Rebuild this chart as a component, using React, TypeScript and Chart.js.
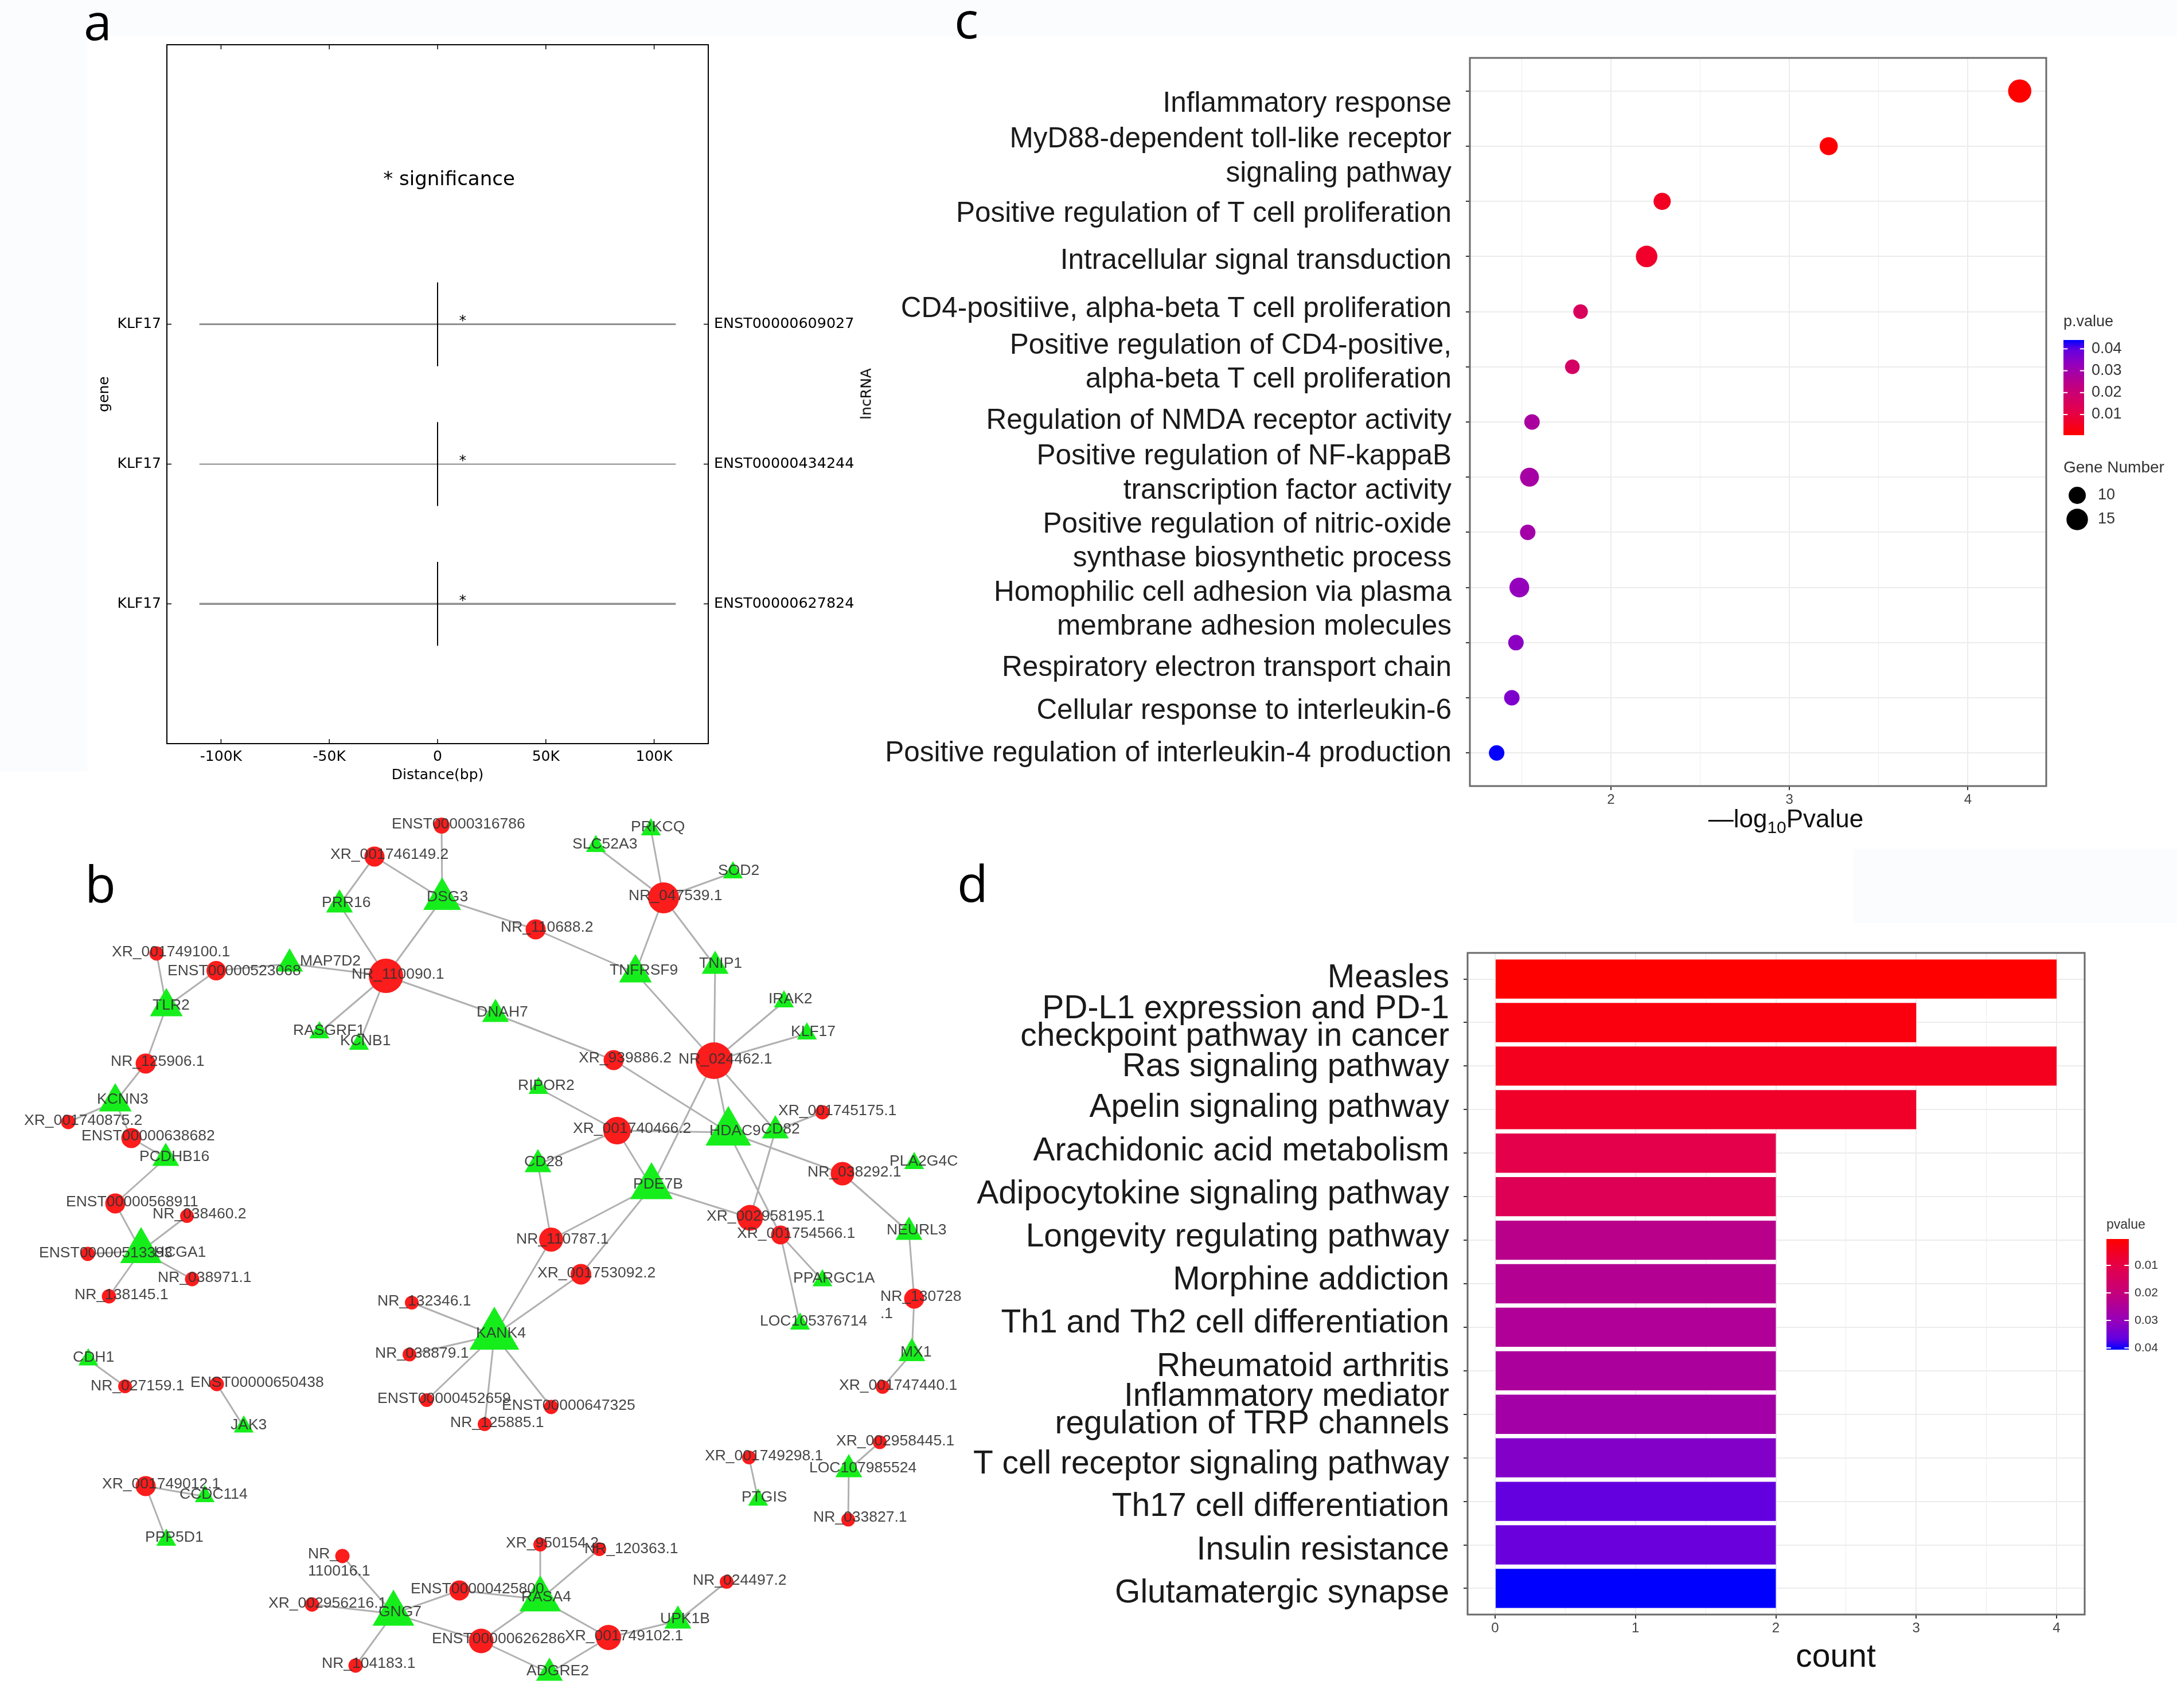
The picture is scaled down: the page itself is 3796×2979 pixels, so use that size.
import React, { useEffect, useRef } from "react";
import { Chart, registerables } from "chart.js";

Chart.register(...registerables);

const W = 3796;
const H = 2979;
const SANS = '"Liberation Sans", Arial, sans-serif';
const DEJAVU = '"DejaVu Sans", sans-serif';

// ---------- panel a ----------
const aGenes = ["KLF17", "KLF17", "KLF17"];
const aLncRNAs = ["ENST00000609027", "ENST00000434244", "ENST00000627824"];
const aRows = [3, 2, 1];
const aTickValues = [-100000, -50000, 0, 50000, 100000];
const aTickLabels = ["-100K", "-50K", "0", "50K", "100K"];
const aSpan = 110000;
const aMarkHalfHeight = 0.3;
const aStarDistance = 11600;

// ---------- panel c ----------
const cTerms: (string | string[])[] = [
  "Inflammatory response",
  ["MyD88-dependent toll-like receptor", "signaling pathway"],
  "Positive regulation of T cell proliferation",
  "Intracellular signal transduction",
  "CD4-positiive, alpha-beta T cell proliferation",
  ["Positive regulation of CD4-positive,", "alpha-beta T cell proliferation"],
  "Regulation of NMDA receptor activity",
  ["Positive regulation of NF-kappaB", "transcription factor activity"],
  ["Positive regulation of nitric-oxide", "synthase biosynthetic process"],
  ["Homophilic cell adhesion via plasma", "membrane adhesion molecules"],
  "Respiratory electron transport chain",
  "Cellular response to interleukin-6",
  "Positive regulation of interleukin-4 production",
];
const cLabelRows = [12.77, 11.81, 10.77, 9.92, 9.04, 8.07, 7.02, 6.06, 4.83, 3.59, 2.54, 1.76, 0.99];
const cLogP = [4.29, 3.22, 2.287, 2.2, 1.83, 1.784, 1.558, 1.544, 1.534, 1.487, 1.468, 1.445, 1.36];
const cPValues = [0.00005, 0.0006, 0.0052, 0.0063, 0.0148, 0.0164, 0.0277, 0.0286, 0.0292, 0.0326, 0.034, 0.0359, 0.0437];
const cGeneCounts = [17, 11, 10, 15, 7, 7, 8, 12, 8, 13, 8, 8, 8];
const cXTicks = [1.5, 2, 2.5, 3, 3.5, 4];
const cLegendTicks = [0.01, 0.02, 0.03, 0.04];
const cSizeLegend = [10, 15];

// ---------- panel d ----------
const dTerms: (string | string[])[] = [
  "Measles",
  ["PD-L1 expression and PD-1", "checkpoint pathway in cancer"],
  "Ras signaling pathway",
  "Apelin signaling pathway",
  "Arachidonic acid metabolism",
  "Adipocytokine signaling pathway",
  "Longevity regulating pathway",
  "Morphine addiction",
  "Th1 and Th2 cell differentiation",
  "Rheumatoid arthritis",
  ["Inflammatory mediator", "regulation of TRP channels"],
  "T cell receptor signaling pathway",
  "Th17 cell differentiation",
  "Insulin resistance",
  "Glutamatergic synapse",
];
const dLabelRows = [15.02, 13.99, 12.98, 12.04, 11.04, 10.05, 9.06, 8.07, 7.09, 6.09, 5.08, 3.85, 2.87, 1.87, 0.88];
const dCounts = [4, 3, 4, 3, 2, 2, 2, 2, 2, 2, 2, 2, 2, 2, 2];
const dPValues = [0.0005, 0.0025, 0.0045, 0.0061, 0.0105, 0.0125, 0.0226, 0.0238, 0.0246, 0.0254, 0.027, 0.0326, 0.0366, 0.0358, 0.0406];
const dXTicks = [0, 0.5, 1, 1.5, 2, 2.5, 3, 3.5, 4];
const dLegendTicks = [0.01, 0.02, 0.03, 0.04];

// ---------- panel b: network, [name, x, y, radius, label x, label y] ----------
type Node = [string, number, number, number, number, number];
const lncNodes: Node[] = [
  ["ENST00000316786", 770, 1440, 14, 683, 1438],
  ["XR_001746149.2", 653, 1494, 17.5, 576, 1491],
  ["NR_110090.1", 673, 1702, 30, 613, 1700],
  ["XR_001749100.1", 273, 1663, 12.5, 195, 1661],
  ["ENST00000523068", 377, 1693, 17, 292, 1694],
  ["NR_125906.1", 254, 1855, 17.5, 193, 1852],
  ["XR_001740875.2", 119, 1957, 12.5, 42, 1955],
  ["ENST00000638682", 229, 1985, 17.5, 142, 1982],
  ["ENST00000568911", 201, 2099, 17.5, 115, 2097],
  ["NR_038460.2", 326, 2121, 12, 266, 2118],
  ["NR_047539.1", 1157, 1566, 27, 1096, 1563],
  ["NR_110688.2", 934, 1621, 17.5, 873, 1618],
  ["XR_939886.2", 1070, 1849, 17.5, 1009, 1846],
  ["NR_024462.1", 1245, 1850, 32, 1183, 1848],
  ["XR_001740466.2", 1076, 1972, 24, 999, 1969],
  ["XR_001745175.1", 1434, 1940, 12.5, 1357, 1938],
  ["NR_038292.1", 1469, 2047, 20.5, 1408, 2045],
  ["XR_002958195.1", 1308, 2124, 22.5, 1232, 2122],
  ["XR_001754566.1", 1361, 2154, 16.5, 1285, 2152],
  ["NR_110787.1", 961, 2162, 21, 900, 2162],
  ["ENST00000513393", 153, 2187, 12.5, 68, 2186],
  ["NR_038971.1", 335, 2231, 12.5, 275, 2229],
  ["NR_138145.1", 190, 2261, 12.5, 130, 2259],
  ["NR_027159.1", 218, 2418, 12, 158, 2418],
  ["ENST00000650438", 378, 2414, 12.5, 332, 2412],
  ["XR_001749012.1", 254, 2592, 17.5, 178, 2589],
  ["NR_110016.1", 597, 2714, 12.5, 537, 2711],
  ["XR_002956216.1", 544, 2798.5, 12.5, 468, 2796.5],
  ["NR_104183.1", 620, 2905, 12.5, 561, 2902],
  ["ENST00000425800", 801, 2774, 17.5, 716, 2772],
  ["ENST00000626286", 839, 2862, 21.5, 753, 2859],
  ["NR_132346.1", 718, 2272, 12, 658, 2270],
  ["NR_038879.1", 714, 2362.5, 12, 654, 2360.5],
  ["ENST00000452659", 744, 2442, 12, 658, 2440],
  ["NR_125885.1", 845, 2484, 12, 785, 2482],
  ["XR_001753092.2", 1013, 2222.5, 18, 937, 2220.5],
  ["NR_130728.1", 1594, 2265, 17.5, 1535, 2262],
  ["XR_001747440.1", 1539, 2419, 12, 1463, 2417],
  ["ENST00000647325", 961, 2454, 12.5, 875, 2452],
  ["XR_002958445.1", 1534, 2515.5, 12, 1458, 2513.5],
  ["XR_001749298.1", 1306, 2542, 12, 1229, 2540],
  ["NR_033827.1", 1479, 2650.5, 12, 1418, 2647],
  ["XR_950154.2", 942, 2694, 12, 882, 2692],
  ["NR_120363.1", 1045, 2702, 12, 1019, 2702],
  ["NR_024497.2", 1267, 2759, 12, 1208, 2757],
  ["XR_001749102.1", 1061, 2856, 22, 985, 2854],
];
const geneNodes: Node[] = [
  ["PRR16", 592, 1578, 27, 561, 1575],
  ["DSG3", 771, 1568, 38, 744, 1565],
  ["MAP7D2", 505, 1681, 27, 523, 1677],
  ["TLR2", 290, 1756, 33, 266, 1754],
  ["DNAH7", 864, 1769, 27, 831, 1766],
  ["RASGRF1", 557, 1801, 20, 511, 1798],
  ["KCNB1", 626, 1821, 20, 593, 1816],
  ["KCNN3", 201, 1922, 33, 169, 1918],
  ["PCDHB16", 289, 2020, 27, 243, 2018],
  ["HCGA1", 246, 2182, 42, 268, 2185],
  ["PRKCQ", 1135, 1447, 20, 1100, 1443],
  ["SLC52A3", 1039, 1476, 20, 998, 1473],
  ["SOD2", 1278, 1522, 20, 1252, 1519],
  ["TNFRSF9", 1108, 1697, 33, 1063, 1693],
  ["TNIP1", 1247, 1685, 27, 1219, 1681],
  ["IRAK2", 1367, 1747, 20, 1340, 1743],
  ["KLF17", 1407, 1803, 20, 1379, 1800],
  ["RIPOR2", 939, 1898, 20, 903, 1894],
  ["HDAC9", 1270, 1975, 46, 1237, 1973],
  ["CD82", 1352, 1972, 27, 1327, 1970],
  ["CD28", 938, 2031, 27, 914, 2027],
  ["PDE7B", 1136, 2070, 43, 1104, 2066],
  ["PLA2G4C", 1594, 2029, 20, 1551, 2026],
  ["NEURL3", 1585, 2149, 27, 1546, 2146],
  ["CDH1", 154, 2371.5, 20, 127, 2367.5],
  ["JAK3", 425, 2488.6, 20, 402, 2485.6],
  ["CCDC114", 357, 2610, 20, 313, 2607],
  ["PPP5D1", 290, 2686, 20, 253, 2682],
  ["GNG7", 686, 2814.4, 42, 660, 2811.4],
  ["KANK4", 862, 2329, 50, 830, 2326],
  ["PPARGC1A", 1434, 2233.4, 20, 1383, 2229.4],
  ["LOC105376714", 1395, 2309, 20, 1325, 2305],
  ["MX1", 1590, 2360.5, 27, 1570, 2358.5],
  ["LOC107985524", 1480, 2563, 27, 1411, 2561],
  ["PTGIS", 1322, 2616, 20, 1293, 2612],
  ["RASA4", 942, 2789.6, 42, 909, 2785.6],
  ["UPK1B", 1182, 2827, 27, 1151, 2824],
  ["ADGRE2", 958, 2918, 27, 918, 2915],
];
const wrappedLabels: Record<string, string[]> = {
  "NR_110016.1": ["NR_", "110016.1"],
  "NR_130728.1": ["NR_130728", ".1"],
};
const edges: [string, string][] = [
  ["ENST00000316786", "DSG3"], ["XR_001746149.2", "DSG3"], ["XR_001746149.2", "PRR16"],
  ["PRR16", "NR_110090.1"], ["DSG3", "NR_110090.1"], ["DSG3", "NR_110688.2"],
  ["NR_110688.2", "TNFRSF9"], ["NR_047539.1", "TNFRSF9"], ["NR_047539.1", "TNIP1"],
  ["NR_047539.1", "SLC52A3"], ["NR_047539.1", "PRKCQ"], ["NR_047539.1", "SOD2"],
  ["TNFRSF9", "NR_024462.1"], ["TNIP1", "NR_024462.1"], ["IRAK2", "NR_024462.1"],
  ["KLF17", "NR_024462.1"], ["NR_110090.1", "MAP7D2"], ["MAP7D2", "ENST00000523068"],
  ["ENST00000523068", "TLR2"], ["XR_001749100.1", "TLR2"], ["TLR2", "NR_125906.1"],
  ["NR_125906.1", "KCNN3"], ["KCNN3", "XR_001740875.2"], ["KCNN3", "ENST00000638682"],
  ["ENST00000638682", "PCDHB16"], ["PCDHB16", "ENST00000568911"], ["ENST00000568911", "HCGA1"],
  ["NR_038460.2", "HCGA1"], ["ENST00000513393", "HCGA1"], ["NR_038971.1", "HCGA1"],
  ["NR_138145.1", "HCGA1"], ["NR_110090.1", "RASGRF1"], ["NR_110090.1", "KCNB1"],
  ["NR_110090.1", "DNAH7"], ["DNAH7", "XR_939886.2"], ["XR_939886.2", "HDAC9"],
  ["NR_024462.1", "HDAC9"], ["NR_024462.1", "PDE7B"], ["NR_024462.1", "CD82"],
  ["RIPOR2", "XR_001740466.2"], ["XR_001740466.2", "CD28"], ["XR_001740466.2", "HDAC9"],
  ["XR_001740466.2", "PDE7B"], ["CD28", "NR_110787.1"], ["PDE7B", "NR_110787.1"],
  ["PDE7B", "XR_001753092.2"], ["PDE7B", "XR_002958195.1"], ["CD82", "XR_001745175.1"],
  ["CD82", "XR_002958195.1"], ["HDAC9", "NR_038292.1"], ["HDAC9", "XR_001754566.1"],
  ["NR_038292.1", "NEURL3"], ["NEURL3", "NR_130728.1"], ["NR_130728.1", "MX1"],
  ["MX1", "XR_001747440.1"], ["XR_001754566.1", "PPARGC1A"], ["XR_001754566.1", "LOC105376714"],
  ["NR_110787.1", "KANK4"], ["XR_001753092.2", "KANK4"], ["KANK4", "NR_132346.1"],
  ["KANK4", "NR_038879.1"], ["KANK4", "ENST00000452659"], ["KANK4", "NR_125885.1"],
  ["KANK4", "ENST00000647325"], ["CDH1", "NR_027159.1"], ["ENST00000650438", "JAK3"],
  ["XR_001749012.1", "CCDC114"], ["XR_001749012.1", "PPP5D1"], ["NR_110016.1", "GNG7"],
  ["XR_002956216.1", "GNG7"], ["GNG7", "ENST00000425800"], ["GNG7", "ENST00000626286"],
  ["GNG7", "NR_104183.1"], ["ENST00000425800", "RASA4"], ["ENST00000626286", "RASA4"],
  ["ENST00000626286", "ADGRE2"], ["RASA4", "XR_950154.2"], ["RASA4", "NR_120363.1"],
  ["RASA4", "XR_001749102.1"], ["XR_001749102.1", "ADGRE2"], ["XR_001749102.1", "UPK1B"],
  ["UPK1B", "NR_024497.2"], ["XR_001749298.1", "PTGIS"], ["XR_002958445.1", "LOC107985524"],
  ["LOC107985524", "NR_033827.1"],
];

// ---------- helpers ----------
const gradientStops: [number, number[]][] = [
  [0, [255, 0, 0]],
  [0.25, [228, 0, 74]],
  [0.5, [195, 0, 126]],
  [0.75, [147, 0, 190]],
  [0.9, [100, 0, 224]],
  [1, [0, 0, 255]],
];
function gradientColor(t: number) {
  const v = Math.max(0, Math.min(1, t));
  for (let i = 1; i < gradientStops.length; i++) {
    const [t1, c1] = gradientStops[i];
    if (v <= t1) {
      const [t0, c0] = gradientStops[i - 1];
      const k = (v - t0) / (t1 - t0);
      const mix = c0.map((c, j) => Math.round(c + (c1[j] - c) * k));
      return `rgb(${mix.join(",")})`;
    }
  }
  return "rgb(0,0,255)";
}
const bubbleRadius = (count: number) => 7.5 + count * 0.75;

type Box = { l: number; t: number; r: number; b: number };
const pad = (box: Box, leftW: number, bottomH: number, rightW = 0) => ({
  left: box.l - leftW,
  top: box.t,
  right: W - box.r - rightW,
  bottom: H - box.b - bottomH,
});
const fitW = (w: number) => (s: any) => { s.width = w; };
const fitH = (h: number) => (s: any) => { s.height = h; };
const setTicks = (values: number[]) => (s: any) => { s.ticks = values.map((value) => ({ value })); };

const framePlugin = (color: string, width: number) => ({
  id: "frame",
  afterDatasetsDraw(chart: any) {
    const { left, top, right, bottom } = chart.chartArea;
    const ctx = chart.ctx;
    ctx.save();
    ctx.strokeStyle = color;
    ctx.lineWidth = width;
    ctx.strokeRect(left, top, right - left, bottom - top);
    ctx.restore();
  },
});

const inwardTicksPlugin = {
  id: "inwardTicks",
  afterDatasetsDraw(chart: any) {
    const { left, top, right, bottom } = chart.chartArea;
    const ctx = chart.ctx;
    const len = 8;
    ctx.save();
    ctx.strokeStyle = "#000";
    ctx.lineWidth = 1.5;
    ctx.beginPath();
    chart.scales.x.ticks.forEach((t: any) => {
      const p = chart.scales.x.getPixelForValue(t.value);
      ctx.moveTo(p, top); ctx.lineTo(p, top + len);
      ctx.moveTo(p, bottom); ctx.lineTo(p, bottom - len);
    });
    chart.scales.y.ticks.forEach((t: any) => {
      const p = chart.scales.y.getPixelForValue(t.value);
      ctx.moveTo(left, p); ctx.lineTo(left + len, p);
      ctx.moveTo(right, p); ctx.lineTo(right - len, p);
    });
    ctx.stroke();
    ctx.restore();
  },
};

const significancePlugin = {
  id: "significance",
  afterDatasetsDraw(chart: any) {
    const ctx = chart.ctx;
    const { x, y } = chart.scales;
    ctx.save();
    ctx.fillStyle = "#000";
    ctx.textAlign = "center";
    ctx.textBaseline = "middle";
    ctx.font = `25px ${DEJAVU}`;
    aRows.forEach((row) => ctx.fillText("*", x.getPixelForValue(aStarDistance), y.getPixelForValue(row) - 5));
    ctx.font = `34px ${DEJAVU}`;
    ctx.fillText("* significance", x.getPixelForValue(5300), y.getPixelForValue(4.03));
    ctx.restore();
  },
};

const colorBarPlugin = (cfg: {
  x: number; y0: number; y1: number; w: number; redOnTop: boolean;
  title: string; titleY: number; titleSize: number; tickSize: number; labelX: number;
  ticks: number[]; pixel: (p: number) => number;
}) => ({
  id: "colorBar",
  afterDraw(chart: any) {
    const ctx = chart.ctx;
    ctx.save();
    const g = ctx.createLinearGradient(0, cfg.y0, 0, cfg.y1);
    gradientStops.forEach(([t]) => g.addColorStop(cfg.redOnTop ? t : 1 - t, gradientColor(t)));
    ctx.fillStyle = g;
    ctx.fillRect(cfg.x, cfg.y0, cfg.w, cfg.y1 - cfg.y0);
    ctx.textBaseline = "middle";
    ctx.textAlign = "left";
    ctx.fillStyle = "#333";
    ctx.font = `${cfg.titleSize}px ${SANS}`;
    ctx.fillText(cfg.title, cfg.x, cfg.titleY);
    ctx.font = `${cfg.tickSize}px ${SANS}`;
    cfg.ticks.forEach((p) => {
      const py = cfg.pixel(p);
      ctx.fillStyle = "#fff";
      ctx.fillRect(cfg.x, py - 1, cfg.w / 5, 2);
      ctx.fillRect(cfg.x + cfg.w * 0.8, py - 1, cfg.w / 5, 2);
      ctx.fillStyle = "#333";
      ctx.fillText(p.toFixed(2), cfg.labelX, py);
    });
    ctx.restore();
  },
});

const sizeLegendPlugin = {
  id: "sizeLegend",
  afterDraw(chart: any) {
    const ctx = chart.ctx;
    const pos = [864, 906];
    ctx.save();
    ctx.textBaseline = "middle";
    ctx.fillStyle = "#333";
    ctx.font = `28px ${SANS}`;
    ctx.fillText("Gene Number", 3598, 816);
    ctx.font = `27px ${SANS}`;
    cSizeLegend.forEach((n, i) => {
      ctx.fillStyle = "#000";
      ctx.beginPath();
      ctx.arc(3622, pos[i], bubbleRadius(n), 0, Math.PI * 2);
      ctx.fill();
      ctx.fillStyle = "#333";
      ctx.fillText(String(n), 3658, pos[i]);
    });
    ctx.restore();
  },
};

const networkLabelsPlugin = {
  id: "networkLabels",
  afterDatasetsDraw(chart: any) {
    const ctx = chart.ctx;
    const { x, y } = chart.scales;
    ctx.save();
    ctx.fillStyle = "rgba(50,50,50,0.9)";
    ctx.font = `26.5px ${SANS}`;
    ctx.textAlign = "left";
    ctx.textBaseline = "middle";
    [...lncNodes, ...geneNodes].forEach(([name, , , , lx, ly]) => {
      const lines = wrappedLabels[name] || [name];
      lines.forEach((line, i) => ctx.fillText(line, x.getPixelForValue(lx), y.getPixelForValue(ly + i * 30)));
    });
    ctx.restore();
  },
};

// ---------- charts ----------
function buildA(canvas: HTMLCanvasElement) {
  const box = { l: 291, t: 78, r: 1235, b: 1297 };
  const hLine = (row: number) => [{ x: -aSpan, y: row }, { x: aSpan, y: row }];
  const vLine = (row: number) => [{ x: 0, y: row - aMarkHalfHeight }, { x: 0, y: row + aMarkHalfHeight }];
  const hWidths = [3, 1.5, 3.5];
  const hColors = ["#8f8f8f", "#666", "#8f8f8f"];
  return new Chart(canvas, {
    type: "scatter",
    data: {
      datasets: [
        ...aRows.map((row) => ({ data: vLine(row), showLine: true, pointRadius: 0, borderColor: "#000", borderWidth: 2 })),
        ...aRows.map((row, i) => ({ data: hLine(row), showLine: true, pointRadius: 0, borderColor: hColors[i], borderWidth: hWidths[i] })),
      ],
    },
    options: {
      animation: false, responsive: false, devicePixelRatio: 1,
      layout: { autoPadding: false, padding: pad(box, 124, 70, 260) },
      plugins: { legend: { display: false }, tooltip: { enabled: false } },
      scales: {
        x: {
          type: "linear", min: -125000, max: 125000, afterFit: fitH(70), afterBuildTicks: setTicks(aTickValues),
          grid: { display: false, drawTicks: false }, border: { display: false },
          ticks: { autoSkip: false, maxRotation: 0, padding: 8, color: "#000", font: { family: DEJAVU, size: 25 }, callback: (_: any, i: number) => aTickLabels[i] },
          title: { display: true, text: "Distance(bp)", color: "#000", padding: 0, font: { family: DEJAVU, size: 25 } },
        },
        y: {
          type: "linear", min: 0, max: 5, position: "left", afterFit: fitW(124), afterBuildTicks: setTicks(aRows),
          grid: { display: false, drawTicks: false }, border: { display: false },
          ticks: { autoSkip: false, padding: 10, color: "#000", font: { family: DEJAVU, size: 25 }, callback: (_: any, i: number) => aGenes[i] },
          title: { display: true, text: "gene", color: "#000", padding: 0, font: { family: DEJAVU, size: 25 } },
        },
        yRight: {
          type: "linear", axis: "y", min: 0, max: 5, position: "right", afterFit: fitW(260), afterBuildTicks: setTicks(aRows),
          grid: { display: false, drawTicks: false }, border: { display: false },
          ticks: { autoSkip: false, padding: 10, color: "#000", font: { family: DEJAVU, size: 25.4 }, callback: (_: any, i: number) => aLncRNAs[i] },
        },
      } as any,
    },
    plugins: [framePlugin("#000", 2), inwardTicksPlugin, significancePlugin],
  } as any);
}

const isMajor = (v: number) => Number.isInteger(v);
const panelGridX = {
  color: "#ececec",
  lineWidth: (c: any) => (c.tick && isMajor(c.tick.value) ? 2 : 1),
  tickColor: (c: any) => (c.tick && isMajor(c.tick.value) ? "#333" : "rgba(0,0,0,0)"),
  tickLength: 7,
};

function buildC(canvas: HTMLCanvasElement) {
  const box = { l: 2563, t: 101, r: 3568, b: 1371 };
  const rows = cTerms.map((_, i) => cTerms.length - i);
  const pRange = 0.0438;
  return new Chart(canvas, {
    type: "bubble",
    data: {
      datasets: [{
        data: cLogP.map((x, i) => ({ x, y: rows[i], r: bubbleRadius(cGeneCounts[i]) })),
        backgroundColor: cPValues.map((p) => gradientColor((p - 0.0001) / pRange)),
        borderWidth: 0,
      }],
    },
    options: {
      animation: false, responsive: false, devicePixelRatio: 1,
      layout: { autoPadding: false, padding: pad(box, 1048, 40) },
      plugins: { legend: { display: false }, tooltip: { enabled: false } },
      scales: {
        x: {
          type: "linear", min: 1.21, max: 4.4385, afterFit: fitH(40), afterBuildTicks: setTicks(cXTicks),
          grid: panelGridX, border: { display: false },
          ticks: { autoSkip: false, maxRotation: 0, padding: 3, color: "#444", font: { family: SANS, size: 24 }, callback: (v: number) => (isMajor(v) ? String(v) : "") },
        },
        y: {
          type: "linear", min: 0.4, max: 13.6, position: "left", weight: 0, afterFit: fitW(8), afterBuildTicks: setTicks(rows),
          grid: { color: "#ececec", lineWidth: 2, tickColor: "#333", tickLength: 7 }, border: { display: false },
          ticks: { display: false },
        },
        yTerms: {
          type: "linear", axis: "y", min: 0.4, max: 13.6, position: "left", weight: 1, afterFit: fitW(1040), afterBuildTicks: setTicks(cLabelRows),
          grid: { display: false, drawTicks: false }, border: { display: false },
          ticks: { autoSkip: false, padding: 24, color: "#1a1a1a", font: { family: SANS, size: 49.5, lineHeight: "59.3px" }, callback: (_: any, i: number) => cTerms[i] },
        },
      } as any,
    },
    plugins: [
      framePlugin("#6a6a6a", 3),
      colorBarPlugin({
        x: 3598, y0: 593, y1: 759, w: 36, redOnTop: false, title: "p.value", titleY: 562, titleSize: 27, tickSize: 27, labelX: 3647,
        ticks: cLegendTicks, pixel: (p) => 723 - (p - 0.01) * 3820,
      }),
      sizeLegendPlugin,
    ],
  } as any);
}

function buildD(canvas: HTMLCanvasElement) {
  const box = { l: 2559, t: 1662, r: 3635, b: 2816 };
  const rows = dTerms.map((_, i) => dTerms.length - i);
  return new Chart(canvas, {
    type: "bar",
    data: {
      datasets: [{
        data: dCounts.map((x, i) => ({ x, y: rows[i] })),
        backgroundColor: dPValues.map((p) => gradientColor((p - 0.0005) / 0.0401)),
        barPercentage: 0.9, categoryPercentage: 1, borderWidth: 0,
      }],
    },
    options: {
      indexAxis: "y",
      animation: false, responsive: false, devicePixelRatio: 1,
      layout: { autoPadding: false, padding: pad(box, 1048, 40) },
      plugins: { legend: { display: false }, tooltip: { enabled: false } },
      scales: {
        x: {
          type: "linear", min: -0.196, max: 4.2, afterFit: fitH(40), afterBuildTicks: setTicks(dXTicks),
          grid: panelGridX, border: { display: false },
          ticks: { autoSkip: false, maxRotation: 0, padding: 3, color: "#444", font: { family: SANS, size: 24 }, callback: (v: number) => (isMajor(v) ? String(v) : "") },
        },
        y: {
          type: "linear", offset: false, min: 0.4, max: 15.6, position: "left", weight: 0, afterFit: fitW(8), afterBuildTicks: setTicks(rows),
          grid: { offset: false, color: "#ececec", lineWidth: 2, tickColor: "#333", tickLength: 7 }, border: { display: false },
          ticks: { display: false },
        },
        yTerms: {
          type: "linear", axis: "y", offset: false, min: 0.4, max: 15.6, position: "left", weight: 1, afterFit: fitW(1040), afterBuildTicks: setTicks(dLabelRows),
          grid: { offset: false, display: false, drawTicks: false }, border: { display: false },
          ticks: { autoSkip: false, padding: 24, color: "#1a1a1a", font: { family: SANS, size: 57, lineHeight: "48px" }, callback: (_: any, i: number) => dTerms[i] },
        },
      } as any,
    },
    plugins: [
      framePlugin("#6a6a6a", 3),
      colorBarPlugin({
        x: 3673, y0: 2161, y1: 2354, w: 39, redOnTop: true, title: "pvalue", titleY: 2137, titleSize: 23, tickSize: 21, labelX: 3722,
        ticks: dLegendTicks, pixel: (p) => 2207 + (p - 0.01) * 4800,
      }),
    ],
  } as any);
}

function buildB(canvas: HTMLCanvasElement) {
  const all = [...lncNodes, ...geneNodes];
  const find = (name: string) => all.find((n) => n[0] === name)!;
  const edgePoints: { x: number; y: number }[] = [];
  edges.forEach(([a, b]) => {
    const na = find(a);
    const nb = find(b);
    edgePoints.push({ x: na[1], y: na[2] }, { x: nb[1], y: nb[2] }, { x: NaN, y: NaN });
  });
  const pts = (nodes: Node[]) => nodes.map((n) => ({ x: n[1], y: n[2] }));
  return new Chart(canvas, {
    type: "scatter",
    data: {
      datasets: [
        { data: pts(lncNodes), pointStyle: "circle", pointRadius: lncNodes.map((n) => n[3]), pointBackgroundColor: "#fb1c1c", pointBorderWidth: 0 },
        { data: pts(geneNodes), pointStyle: "triangle", pointRadius: geneNodes.map((n) => n[3]), pointBackgroundColor: "#16ee1c", pointBorderWidth: 0 },
        { data: edgePoints, showLine: true, spanGaps: false, pointRadius: 0, borderColor: "#b0b0b0", borderWidth: 3 },
      ],
    },
    options: {
      animation: false, responsive: false, devicePixelRatio: 1,
      layout: { autoPadding: false, padding: 0 },
      plugins: { legend: { display: false }, tooltip: { enabled: false } },
      scales: {
        x: { type: "linear", display: false, min: 0, max: W },
        y: { type: "linear", display: false, min: 0, max: H, reverse: true },
      },
    },
    plugins: [networkLabelsPlugin],
  } as any);
}

const builders = [buildA, buildB, buildC, buildD];

const text = (x: number, y: number, size: number, family: string, extra: React.CSSProperties = {}): React.CSSProperties => ({
  position: "absolute", left: x, top: y, fontSize: size, fontFamily: family, lineHeight: 1, whiteSpace: "nowrap",
  transform: "translate(-50%,-50%)", color: "#111", ...extra,
});
const letter = (x: number, y: number): React.CSSProperties => ({
  position: "absolute", left: x, top: y, fontSize: 88, fontFamily: '"Open Sans", sans-serif', lineHeight: 1, color: "#000",
});
const tint = (left: number, top: number, width: number, height: number): React.CSSProperties => ({
  position: "absolute", left, top, width, height, background: "#fbfcfe",
});

export default function App() {
  const refs = useRef<(HTMLCanvasElement | null)[]>([]);
  useEffect(() => {
    const charts = builders.map((b, i) => b(refs.current[i]!));
    return () => charts.forEach((c) => c.destroy());
  }, []);
  return (
    <div style={{ position: "absolute", left: 0, top: 0, width: W, height: H, overflow: "hidden", background: "#fff" }}>
      <div style={tint(0, 0, W, 62)} />
      <div style={tint(0, 0, 152, 1345)} />
      <div style={tint(3231, 1480, 565, 130)} />
      {builders.map((_, i) => (
        <canvas key={i} ref={(el) => { refs.current[i] = el; }} width={W} height={H}
          style={{ position: "absolute", left: 0, top: 0, width: W, height: H, display: "block" }} />
      ))}
      <div style={letter(146, -8)}>a</div>
      <div style={letter(148, 1496)}>b</div>
      <div style={letter(1664, -11)}>c</div>
      <div style={letter(1669, 1495)}>d</div>
      <div style={text(1510, 687, 25, DEJAVU, { transform: "translate(-50%,-50%) rotate(-90deg)", color: "#000" })}>lncRNA</div>
      <div style={text(3114, 1432, 44, SANS)}>
        —log<sub style={{ fontSize: 30 }}>10</sub>Pvalue
      </div>
      <div style={text(3201, 2887, 57, SANS)}>count</div>
    </div>
  );
}
